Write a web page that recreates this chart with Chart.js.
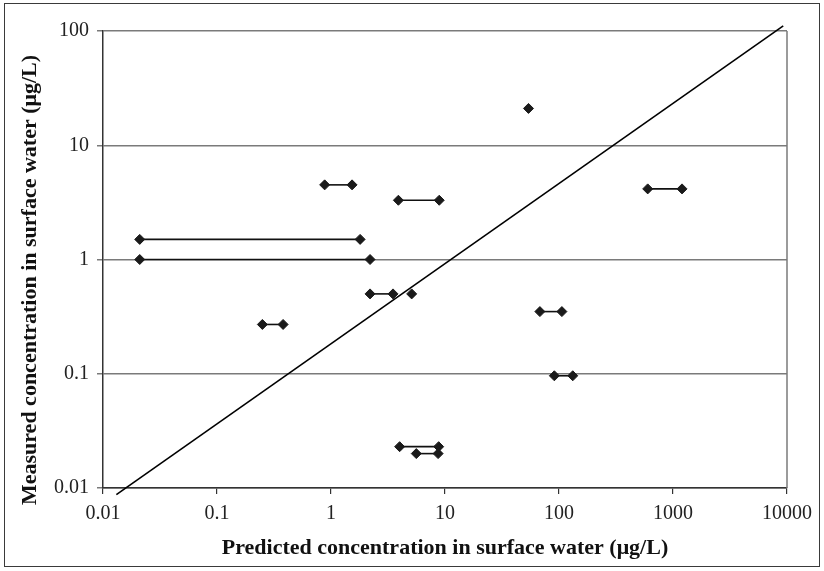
<!DOCTYPE html>
<html>
<head>
<meta charset="utf-8">
<script src="https://cdn.jsdelivr.net/npm/chart.js@4/dist/chart.umd.min.js"></script>
<style>
html,body{margin:0;padding:0;background:#fff;}
#wrap{width:824px;height:571px;position:relative;}
</style>
</head>
<body>
<div id="wrap"><canvas id="c" width="824" height="571"></canvas></div>
<script>
// Ranges: predicted low/high at a measured value
const rangeY     = [4.5, 3.3, 4.15, 1.5, 1.0, 0.5, 0.27, 0.35, 0.096, 0.023, 0.02];
const rangeXLow  = [0.88, 3.9, 600, 0.021, 0.021, 2.2, 0.25, 68, 91, 4.0, 5.6];
const rangeXHigh = [1.53, 8.9, 1200, 1.8, 2.2, 3.5, 0.38, 106, 132, 8.8, 8.7];
// Single points
const singleX = [54, 5.1];
const singleY = [21, 0.5];
// Reference line
const lineX = [0.0131, 9270];
const lineY = [0.00874, 111];
// Tick labels
const xTicks = [0.01, 0.1, 1, 10, 100, 1000, 10000];
const xTickLabels = ["0.01", "0.1", "1", "10", "100", "1000", "10000"];
const yTicks = [0.01, 0.1, 1, 10, 100];
const yTickLabels = ["0.01", "0.1", "1", "10", "100"];
const xTitle = 'Predicted concentration in surface water (μg/L)';
const yTitle = 'Measured concentration in surface water (μg/L)';

const FONT = "'Liberation Serif', 'Times New Roman', serif";
const markStyle = {
  pointStyle: 'rectRot', pointRadius: 5, pointHoverRadius: 5,
  pointBackgroundColor: '#1a1a1a', pointBorderColor: '#1a1a1a', pointBorderWidth: 1,
  borderColor: '#111', borderWidth: 1.6, showLine: true, fill: false
};

const datasets = [];
rangeY.forEach((y, i) => {
  datasets.push(Object.assign({
    label: 'range' + i,
    data: [{x: rangeXLow[i], y: y}, {x: rangeXHigh[i], y: y}]
  }, markStyle));
});
datasets.push(Object.assign({}, markStyle, {
  label: 'single', showLine: false,
  data: singleX.map((x, i) => ({x: x, y: singleY[i]}))
}));
datasets.push({
  label: 'line', showLine: true, pointRadius: 0, borderColor: '#000', borderWidth: 1.6,
  clip: false,
  data: lineX.map((x, i) => ({x: x, y: lineY[i]}))
});

const framePlugin = {
  id: 'frame',
  beforeDraw(chart) {
    const ctx = chart.ctx;
    ctx.save();
    ctx.fillStyle = '#fff';
    ctx.fillRect(0, 0, chart.width, chart.height);
    ctx.strokeStyle = '#3a3a3a';
    ctx.lineWidth = 1;
    ctx.strokeRect(4.5, 3.5, 815, 563);
    ctx.restore();
  },
  afterDatasetsDraw(chart) {
    const a = chart.chartArea, ctx = chart.ctx;
    ctx.save();
    ctx.strokeStyle = '#7a7a7a';
    ctx.lineWidth = 1.5;
    ctx.beginPath();
    ctx.moveTo(a.right, a.top);
    ctx.lineTo(a.right, a.bottom);
    ctx.stroke();
    // y-axis title
    ctx.translate(30, 280);
    ctx.rotate(-Math.PI / 2);
    ctx.fillStyle = '#111';
    ctx.font = "bold 22px " + FONT;
    ctx.textAlign = 'center';
    ctx.textBaseline = 'middle';
    ctx.fillText(yTitle, 0, 0);
    ctx.restore();
  }
};

new Chart(document.getElementById('c'), {
  type: 'scatter',
  data: { datasets: datasets },
  options: {
    responsive: false,
    animation: false,
    devicePixelRatio: 1,
    layout: { padding: { left: 0, right: 37, top: 31, bottom: 0 } },
    plugins: { legend: { display: false }, tooltip: { enabled: false } },
    scales: {
      x: {
        type: 'logarithmic', min: 0.01, max: 10000,
        afterBuildTicks(s) { s.ticks = xTicks.map(v => ({value: v})); },
        afterFit(s) { s.height = 83; },
        ticks: {
          autoSkip: false, maxRotation: 0, padding: 8, color: '#222',
          font: { family: FONT, size: 20 },
          callback(v) { const i = xTicks.indexOf(v); return i >= 0 ? xTickLabels[i] : ''; }
        },
        grid: { drawOnChartArea: false, drawTicks: true, tickLength: 6, color: '#333', lineWidth: 1.2 },
        border: { color: '#333', width: 1.5 },
        title: {
          display: true, text: xTitle,
          color: '#111', font: { family: FONT, size: 22, weight: 'bold' },
          padding: { top: 0, bottom: 9 }
        }
      },
      y: {
        type: 'logarithmic', min: 0.01, max: 100,
        afterBuildTicks(s) { s.ticks = yTicks.map(v => ({value: v})); },
        afterFit(s) { s.width = 103; },
        ticks: {
          autoSkip: false, padding: 8, color: '#222',
          font: { family: FONT, size: 20 },
          callback(v) { const i = yTicks.indexOf(v); return i >= 0 ? yTickLabels[i] : ''; }
        },
        grid: { drawOnChartArea: true, drawTicks: true, tickLength: 6, color: '#7a7a7a', lineWidth: 1.5 },
        border: { color: '#333', width: 1.5 },
        title: { display: false }
      }
    }
  },
  plugins: [framePlugin]
});
</script>
</body>
</html>
